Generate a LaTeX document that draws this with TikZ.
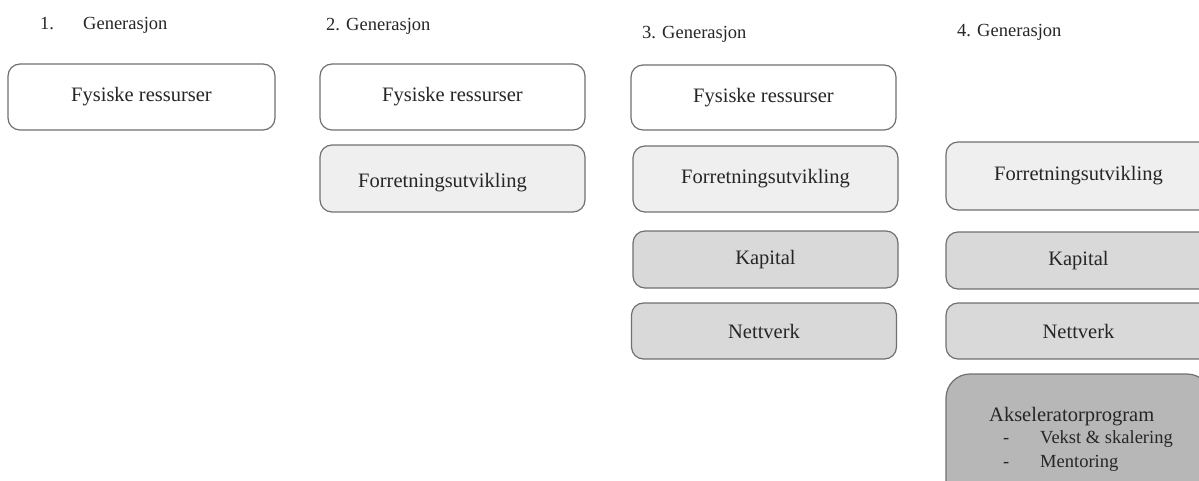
\documentclass[tikz,border=0pt]{standalone}
\usepackage{fontspec}
\setmainfont{Liberation Serif}
\definecolor{edge}{HTML}{707070}
\definecolor{txt}{HTML}{262626}
\definecolor{fillA}{HTML}{FFFFFF}
\definecolor{fillB}{HTML}{EFEFEF}
\definecolor{fillC}{HTML}{D9D9D9}
\definecolor{fillD}{HTML}{B7B7B7}
\begin{document}
\begin{tikzpicture}[x=1pt,y=-1pt,
  box/.style={draw=edge, line width=1.2pt, rounded corners=12pt, inner sep=0pt,
    text=txt, font=\fontsize{20.5}{24}\selectfont, minimum width=265pt},
  title/.style={anchor=base west, inner sep=0pt, text=txt, font=\fontsize{18.5}{22}\selectfont},
  sub/.style={anchor=base west, inner sep=0pt, text=txt}
]
\useasboundingbox (0,0) rectangle (1199,481);
\clip (0,0) rectangle (1199,481);
% titles
\node[title] (t1a) at (40,30) {1.};
\node[title] (t1b) at (83,30) {Generasjon};
\node[title] (t2) at (326,31) {2. Generasjon};
\node[title] (t3) at (642,39) {3. Generasjon};
\node[title] (t4) at (957,37) {4. Generasjon};
% generation 1
\node[box, fill=fillA, minimum width=267pt, minimum height=66pt] (g1fys) at (141.5,97) {Fysiske ressurser};
% generation 2
\node[box, fill=fillA, minimum height=66pt] (g2fys) at (452.5,97) {Fysiske ressurser};
\node[box, fill=fillB, minimum height=67pt] (g2for) at (452.5,178.5) {};
\node[sub, font=\fontsize{20.5}{24}\selectfont] (g2fort) at (358,188) {Forretningsutvikling};
% generation 3
\node[box, fill=fillA, minimum height=65pt] (g3fys) at (763.5,97.5) {Fysiske ressurser};
\node[box, fill=fillB, minimum height=66pt] (g3for) at (765.5,179) {Forretningsutvikling};
\node[box, fill=fillC, minimum height=57pt] (g3kap) at (765.5,259.5) {Kapital};
\node[box, fill=fillC, minimum height=56pt] (g3net) at (764,331) {Nettverk};
% generation 4
\node[box, fill=fillB, minimum height=68pt] (g4for) at (1078.5,176) {Forretningsutvikling};
\node[box, fill=fillC, minimum height=57pt] (g4kap) at (1078.5,260.5) {Kapital};
\node[box, fill=fillC, minimum height=56pt] (g4net) at (1078.5,331) {Nettverk};
\node[box, fill=fillD, rounded corners=24pt, minimum height=130pt] (g4aks) at (1078.5,439) {};
\node[sub, font=\fontsize{20.5}{24}\selectfont] (aks1) at (989,421) {Akseleratorprogram};
\node[sub, font=\fontsize{18.5}{22}\selectfont] (aks2a) at (1003,443) {-};
\node[sub, font=\fontsize{18.5}{22}\selectfont] (aks2b) at (1040,443) {Vekst \& skalering};
\node[sub, font=\fontsize{18.5}{22}\selectfont] (aks3a) at (1003,467) {-};
\node[sub, font=\fontsize{18.5}{22}\selectfont] (aks3b) at (1040,467) {Mentoring};
\end{tikzpicture}
\end{document}
